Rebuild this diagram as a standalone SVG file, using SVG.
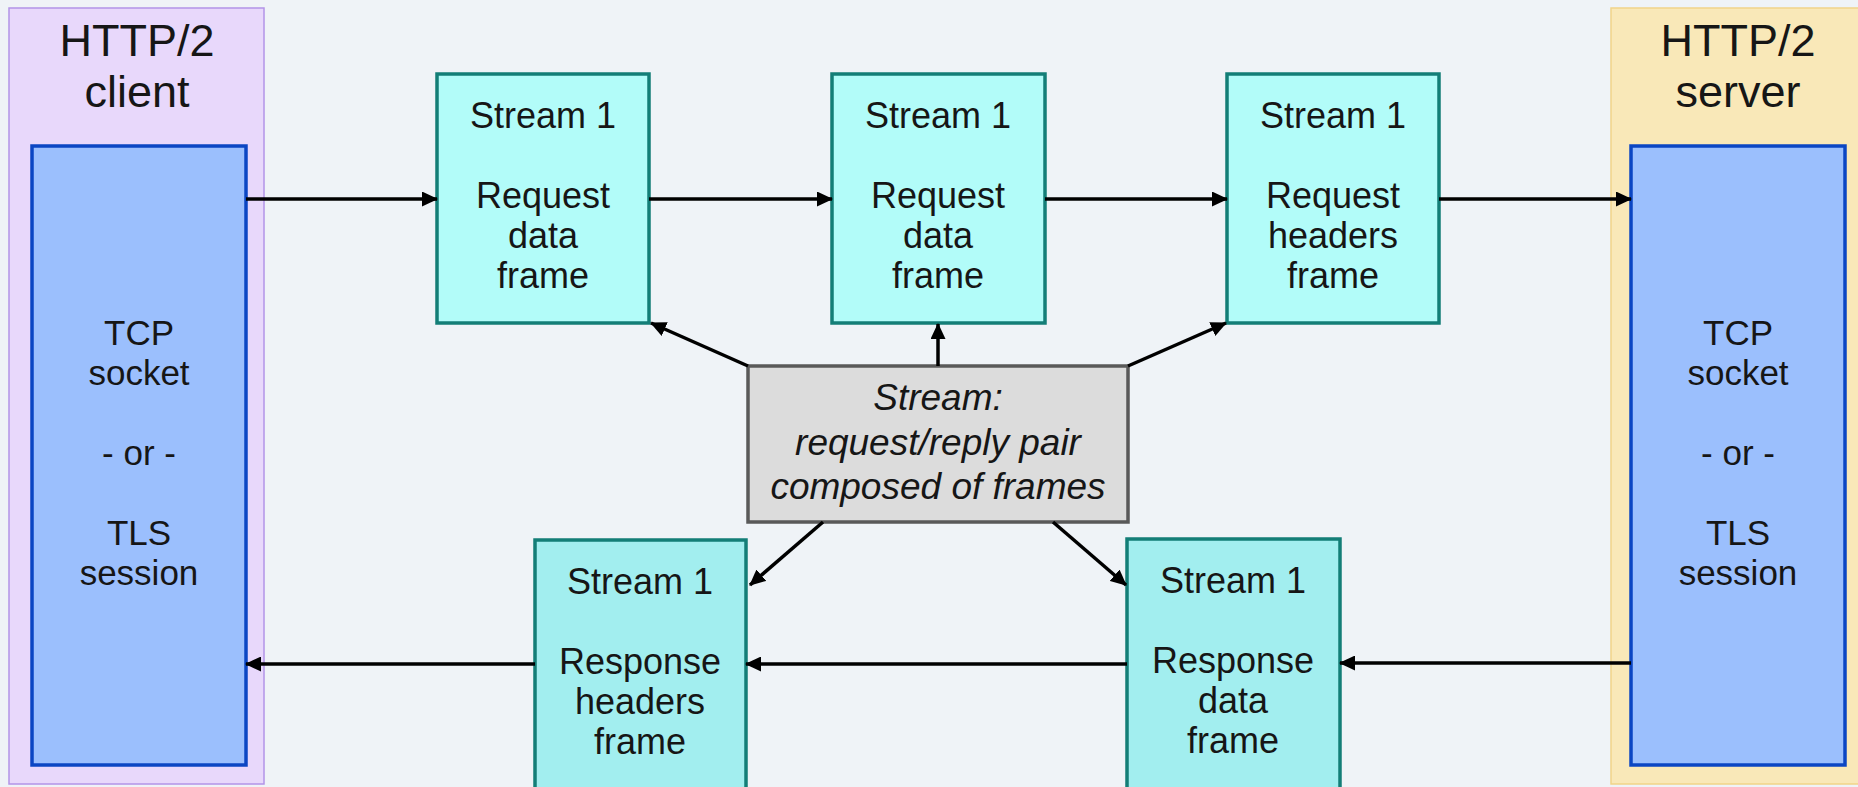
<svg xmlns="http://www.w3.org/2000/svg" width="1858" height="787" viewBox="0 0 1858 787">
  <defs>
    <marker id="arrow" markerUnits="userSpaceOnUse" markerWidth="16" markerHeight="15" refX="15" refY="7.5" orient="auto">
      <path d="M0,0 L16,7.5 L0,15 z" fill="#000"/>
    </marker>
  </defs>
  <style>
    text { font-family: "Liberation Sans", Arial, sans-serif; fill: #161616; text-anchor: middle; }
    .title { font-size: 45px; }
    .lbl { font-size: 36px; }
    .side { font-size: 35px; }
    .ital { font-size: 37px; font-style: italic; }
    .client { fill: #e8d8fb; stroke: #b394e8; stroke-width: 1.5; }
    .server { fill: #f9e8b8; stroke: #f1d489; stroke-width: 1.5; }
    .socket { fill: #9bbffd; stroke: #0b46c3; stroke-width: 3.5; }
    .req { fill: #b2fcf9; stroke: #137e77; stroke-width: 3.5; }
    .resp { fill: #a2eeef; stroke: #137e77; stroke-width: 3.5; }
    .stream { fill: #dcdcdc; stroke: #595959; stroke-width: 3.5; }
    .conn { stroke: #000; stroke-width: 3.5; fill: none; marker-end: url(#arrow); }
  </style>

  <rect width="1858" height="787" fill="#eff3f7"/>

  <!-- client endpoint -->
  <g id="client">
    <rect class="client" x="9" y="8" width="255" height="776"/>
    <text class="title" x="137" y="56">HTTP/2</text>
    <text class="title" x="137" y="107">client</text>
    <rect class="socket" x="32" y="146" width="214" height="619"/>
    <text class="side" x="139" y="345">TCP</text>
    <text class="side" x="139" y="385">socket</text>
    <text class="side" x="139" y="465">- or -</text>
    <text class="side" x="139" y="545">TLS</text>
    <text class="side" x="139" y="585">session</text>
  </g>

  <!-- server endpoint -->
  <g id="server">
    <rect class="server" x="1611" y="8" width="250" height="776"/>
    <text class="title" x="1738" y="56">HTTP/2</text>
    <text class="title" x="1738" y="107">server</text>
    <rect class="socket" x="1631" y="146" width="214" height="619"/>
    <text class="side" x="1738" y="345">TCP</text>
    <text class="side" x="1738" y="385">socket</text>
    <text class="side" x="1738" y="465">- or -</text>
    <text class="side" x="1738" y="545">TLS</text>
    <text class="side" x="1738" y="585">session</text>
  </g>

  <!-- request frames -->
  <g id="req-data-1">
    <rect class="req" x="437" y="74" width="212" height="249"/>
    <text class="lbl" x="543" y="128">Stream 1</text>
    <text class="lbl" x="543" y="208">Request</text>
    <text class="lbl" x="543" y="248">data</text>
    <text class="lbl" x="543" y="288">frame</text>
  </g>
  <g id="req-data-2">
    <rect class="req" x="832" y="74" width="213" height="249"/>
    <text class="lbl" x="938" y="128">Stream 1</text>
    <text class="lbl" x="938" y="208">Request</text>
    <text class="lbl" x="938" y="248">data</text>
    <text class="lbl" x="938" y="288">frame</text>
  </g>
  <g id="req-headers">
    <rect class="req" x="1227" y="74" width="212" height="249"/>
    <text class="lbl" x="1333" y="128">Stream 1</text>
    <text class="lbl" x="1333" y="208">Request</text>
    <text class="lbl" x="1333" y="248">headers</text>
    <text class="lbl" x="1333" y="288">frame</text>
  </g>

  <!-- response frames -->
  <g id="resp-headers">
    <rect class="resp" x="535" y="540" width="211" height="260"/>
    <text class="lbl" x="640" y="594">Stream 1</text>
    <text class="lbl" x="640" y="674">Response</text>
    <text class="lbl" x="640" y="714">headers</text>
    <text class="lbl" x="640" y="754">frame</text>
  </g>
  <g id="resp-data">
    <rect class="resp" x="1127" y="539" width="213" height="260"/>
    <text class="lbl" x="1233" y="593">Stream 1</text>
    <text class="lbl" x="1233" y="673">Response</text>
    <text class="lbl" x="1233" y="713">data</text>
    <text class="lbl" x="1233" y="753">frame</text>
  </g>

  <!-- stream description -->
  <g id="stream">
    <rect class="stream" x="748" y="366" width="380" height="156"/>
    <text class="ital" x="938" y="410">Stream:</text>
    <text class="ital" x="938" y="455">request/reply pair</text>
    <text class="ital" x="938" y="499">composed of frames</text>
  </g>

  <!-- connectors -->
  <g id="connectors">
    <line class="conn" x1="246" y1="199" x2="437" y2="199"/>
    <line class="conn" x1="649" y1="199" x2="832" y2="199"/>
    <line class="conn" x1="1045" y1="199" x2="1227" y2="199"/>
    <line class="conn" x1="1439" y1="199" x2="1631" y2="199"/>

    <line class="conn" x1="1631" y1="663" x2="1340" y2="663"/>
    <line class="conn" x1="1127" y1="664" x2="746" y2="664"/>
    <line class="conn" x1="535" y1="664" x2="246" y2="664"/>

    <line class="conn" x1="748" y1="366" x2="651" y2="323"/>
    <line class="conn" x1="938" y1="366" x2="938" y2="324"/>
    <line class="conn" x1="1128" y1="366" x2="1226" y2="323"/>
    <line class="conn" x1="823" y1="522" x2="750" y2="585"/>
    <line class="conn" x1="1053" y1="522" x2="1126" y2="585"/>
  </g>
</svg>
